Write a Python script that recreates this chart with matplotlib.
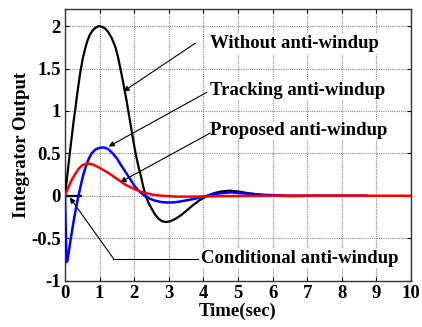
import matplotlib
matplotlib.use('Agg')
import matplotlib.pyplot as plt

# Integrator output vs time
t_without = [0, 0.05, 0.1, 0.15, 0.2, 0.25, 0.3, 0.37, 0.44, 0.51, 0.58, 0.65, 0.72, 0.8,
             0.88, 0.97, 1.05, 1.15, 1.25, 1.35, 1.46, 1.53, 1.6, 1.66, 1.72, 1.78, 1.83,
             1.9, 1.97, 2.04, 2.12, 2.19, 2.26, 2.33, 2.42, 2.5, 2.6, 2.7, 2.8, 2.92, 3.05,
             3.2, 3.35, 3.5, 3.7, 3.9, 4.13, 4.3, 4.5, 4.76, 5.0, 5.3, 5.6, 5.9, 6.5, 7.5, 8.7]
y_without = [0, 0.18, 0.36, 0.54, 0.71, 0.88, 1.03, 1.25, 1.45, 1.61, 1.73, 1.83, 1.9, 1.95,
             1.98, 2.0, 1.995, 1.975, 1.93, 1.86, 1.75, 1.64, 1.5, 1.38, 1.25, 1.12, 1.0,
             0.83, 0.66, 0.5, 0.35, 0.24, 0.11, 0.0, -0.09, -0.15, -0.22, -0.27, -0.3, -0.31, -0.3,
             -0.27, -0.23, -0.18, -0.11, -0.05, 0.0, 0.03, 0.05, 0.06, 0.05, 0.03, 0.015, 0.0, -0.005, 0.0, 0.0]

t_tracking = [0, 0.02, 0.04, 0.055, 0.08, 0.15, 0.25, 0.32, 0.39, 0.46, 0.53, 0.6, 0.68,
              0.77, 0.88, 1.0, 1.12, 1.25, 1.38, 1.5, 1.62, 1.75, 1.88, 2.0, 2.15, 2.3,
              2.45, 2.62, 2.8, 2.96, 3.15, 3.3, 3.5, 3.7, 3.9, 4.1, 4.3, 4.5, 4.8, 5.1,
              5.4, 5.8, 6.5, 8.7]
y_tracking = [0, -0.35, -0.68, -0.78, -0.75, -0.55, -0.3, -0.14, 0.0, 0.13, 0.25, 0.34, 0.43,
              0.5, 0.545, 0.565, 0.57, 0.55, 0.5, 0.44, 0.36, 0.28, 0.2, 0.12, 0.05, 0.0,
              -0.035, -0.06, -0.075, -0.08, -0.078, -0.07, -0.055, -0.04, -0.02, 0.0, 0.02, 0.03, 0.04, 0.03,
              0.02, 0.01, 0.0, 0.0]

t_proposed = [0, 0.05, 0.1, 0.15, 0.2, 0.3, 0.4, 0.5, 0.63, 0.8, 1.0, 1.25, 1.5, 1.75,
              2.0, 2.25, 2.5, 2.8, 3.2, 3.8, 4.5, 6, 8, 10]
y_proposed = [0, 0.05, 0.1, 0.15, 0.19, 0.26, 0.32, 0.36, 0.38, 0.37, 0.33, 0.27, 0.2, 0.13,
              0.08, 0.04, 0.015, 0.0, -0.01, -0.01, -0.005, 0, 0, 0]

t_conditional = [0, 0.45]
y_conditional = [0, 0]

x_ticks = [0, 1, 2, 3, 4, 5, 6, 7, 8, 9, 10]
y_ticks = [-1, -0.5, 0, 0.5, 1, 1.5, 2]
y_ticklabels = ['-1', '-0.5', '0', '0.5', '1', '1.5', '2']

plt.rcParams['font.family'] = ['Liberation Serif', 'DejaVu Serif']
plt.rcParams['font.weight'] = 'bold'

fig = plt.figure(figsize=(4.22, 3.27), dpi=100)
ax = fig.add_axes([0.154, 0.142, 0.82, 0.83])

ax.plot(t_conditional, y_conditional, color='k', lw=1.6, zorder=2)
ax.plot(t_without, y_without, color='k', lw=1.6, zorder=3)
ax.plot(t_tracking, y_tracking, color='#0000ff', lw=1.8, zorder=4)
ax.plot(t_proposed, y_proposed, color='#ff0000', lw=1.8, zorder=5)

ax.set_xlim(0, 10)
ax.set_ylim(-1, 2.2)
ax.set_xticks(x_ticks)
ax.set_yticks(y_ticks)
ax.set_yticklabels(y_ticklabels)
ax.grid(True, color='#888888', ls=(0, (1, 1)), lw=0.8)
ax.tick_params(direction='in', top=True, right=True, labelsize=13.5, pad=3, length=3)
for s in ax.spines.values():
    s.set_linewidth(1.0)
    s.set_color('#333333')

ax.set_xlabel('Time(sec)', fontsize=13.5, fontweight='bold', labelpad=1)
ax.set_ylabel('Integrator Output', fontsize=13.5, fontweight='bold', labelpad=1)

box = dict(facecolor='white', edgecolor='none', pad=1)
label_kw = dict(fontsize=13.5, fontweight='bold', va='center', ha='left', bbox=box, zorder=6)
ax.text(4.2, 1.79, 'Without anti-windup', **label_kw)
ax.text(4.2, 1.24, 'Tracking anti-windup', **label_kw)
ax.text(4.2, 0.77, 'Proposed anti-windup', **label_kw)
ax.text(3.94, -0.74, 'Conditional anti-windup', **label_kw)

arrow = dict(arrowstyle='-|>', color='k', lw=0.8, mutation_scale=8, shrinkA=0, shrinkB=0)
ax.annotate('', xy=(1.69, 1.23), xytext=(3.77, 1.80), arrowprops=arrow, zorder=7)
ax.annotate('', xy=(1.26, 0.58), xytext=(4.1, 1.22), arrowprops=arrow, zorder=7)
ax.annotate('', xy=(1.6, 0.16), xytext=(4.2, 0.74), arrowprops=arrow, zorder=7)
ax.annotate('', xy=(0.14, -0.02), xytext=(1.4, -0.74), arrowprops=arrow, zorder=7)
ax.plot([1.4, 3.85], [-0.74, -0.74], color='k', lw=0.8, zorder=7)

fig.savefig('out.png', dpi=100)
